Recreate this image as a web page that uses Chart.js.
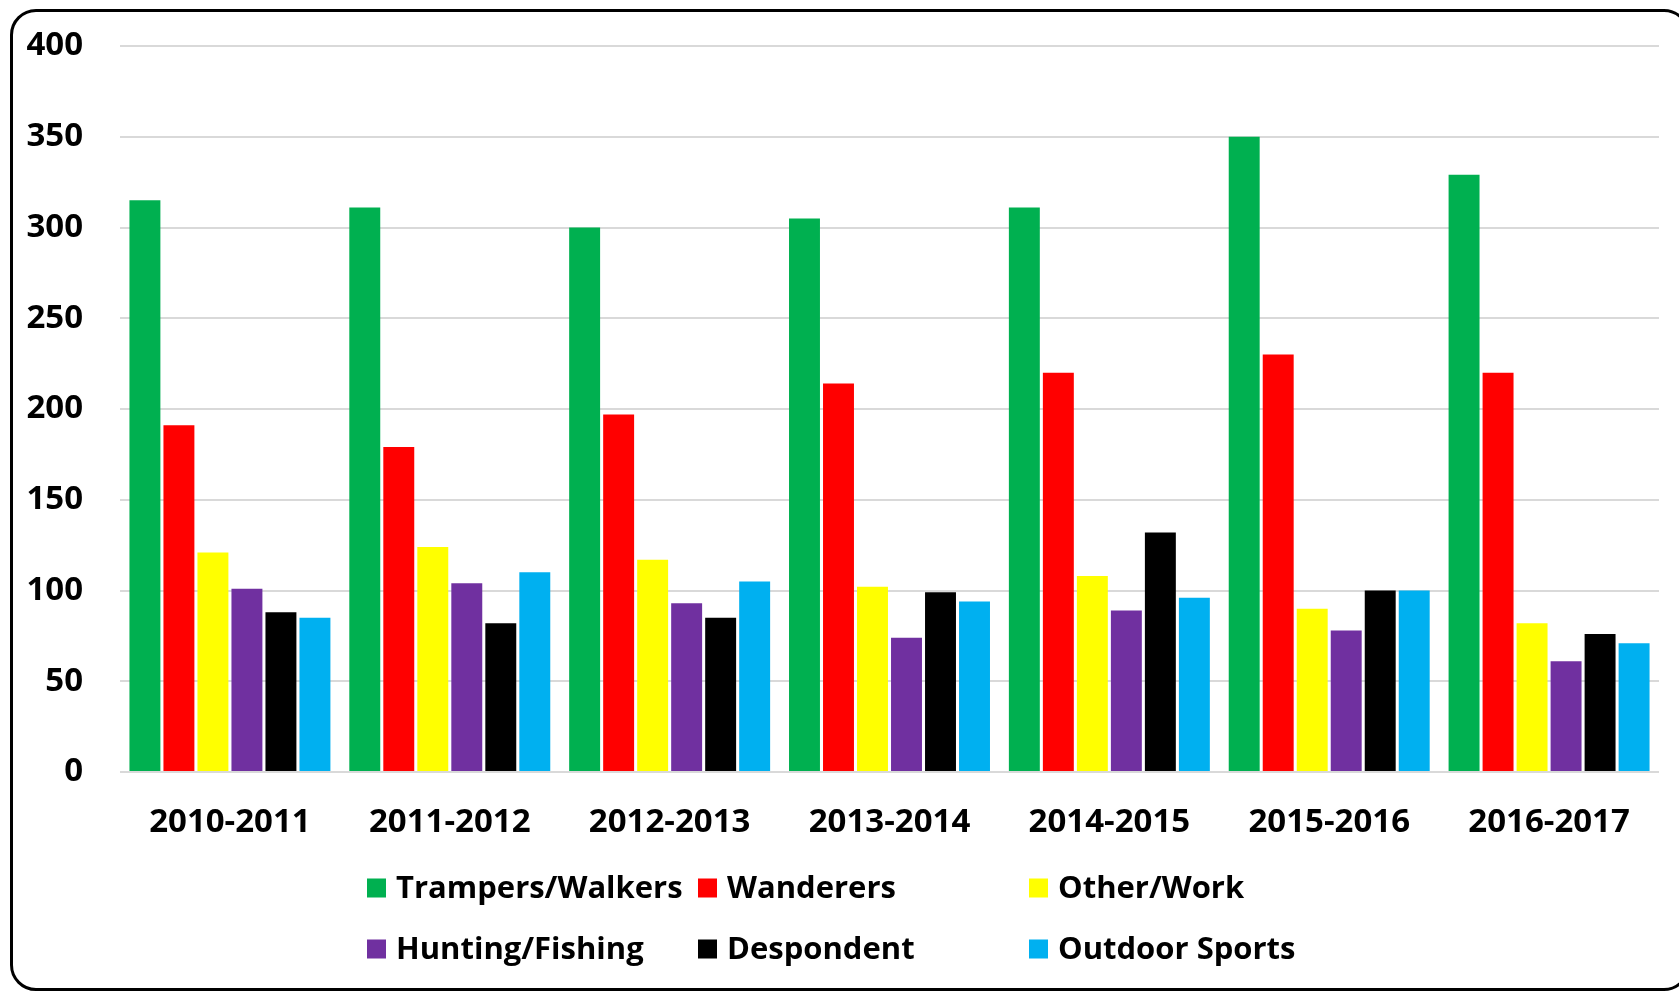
<!DOCTYPE html>
<html>
<head>
<meta charset="utf-8">
<script src="https://cdn.jsdelivr.net/npm/chart.js@4/dist/chart.umd.min.js"></script>
<style>
  html, body { margin: 0; padding: 0; background: #fff; overflow: hidden; }
  #wrap { position: relative; width: 1679px; height: 991px; overflow: hidden; }
  #frame { position: absolute; left: 10px; top: 9px; width: 1680px; height: 982px;
           border: 3px solid #000; border-radius: 26px; box-sizing: border-box; }
  canvas { position: absolute; left: 0; top: 0; }
</style>
</head>
<body>
<div id="wrap">
  <div id="frame"></div>
  <canvas id="c" width="1679" height="991"></canvas>
</div>
<script>
const categories = ["2010-2011","2011-2012","2012-2013","2013-2014","2014-2015","2015-2016","2016-2017"];
const seriesNames = ["Trampers/Walkers","Wanderers","Other/Work","Hunting/Fishing","Despondent","Outdoor Sports"];
const seriesColors = ["#00B050","#FF0000","#FFFF00","#7030A0","#000000","#00B0F0"];
const trampersWalkers = [315, 311, 300, 305, 311, 350, 329];
const wanderers       = [191, 179, 197, 214, 220, 230, 220];
const otherWork       = [121, 124, 117, 102, 108,  90,  82];
const huntingFishing  = [101, 104,  93,  74,  89,  78,  61];
const despondent      = [ 88,  82,  85,  99, 132, 100,  76];
const outdoorSports   = [ 85, 110, 105,  94,  96, 100,  71];
const yTicks = [0, 50, 100, 150, 200, 250, 300, 350, 400];

const seriesValues = [trampersWalkers, wanderers, otherWork, huntingFishing, despondent, outdoorSports];
const FONT = "'Open Sans', 'DejaVu Sans', sans-serif";

const legendPlugin = {
  id: 'gridLegend',
  afterDraw(chart) {
    const ctx = chart.ctx;
    const colX = [367, 698, 1029];
    const rowY = [888, 949];
    const box = 19;
    ctx.save();
    ctx.font = "bold 31px " + FONT;
    ctx.textBaseline = 'middle';
    ctx.textAlign = 'left';
    chart.data.datasets.forEach((ds, i) => {
      const x = colX[i % 3];
      const y = rowY[Math.floor(i / 3)];
      ctx.fillStyle = ds.backgroundColor;
      ctx.fillRect(x, y - box / 2, box, box);
      ctx.fillStyle = '#000';
      ctx.fillText(ds.label, x + box + 10, y + 1);
    });
    ctx.restore();
  }
};

new Chart(document.getElementById('c'), {
  type: 'bar',
  data: {
    labels: categories,
    datasets: seriesNames.map((name, i) => ({
      label: name,
      data: seriesValues[i],
      backgroundColor: seriesColors[i],
      borderWidth: 0,
      categoryPercentage: 0.928,
      barPercentage: 0.91
    }))
  },
  options: {
    responsive: false,
    animation: false,
    devicePixelRatio: 1,
    layout: { padding: { left: 20, right: 20, top: 46, bottom: 0 } },
    plugins: {
      legend: { display: false },
      tooltip: { enabled: false },
      title: { display: false }
    },
    scales: {
      x: {
        grid: { display: false, drawTicks: false },
        border: { display: false },
        ticks: { color: '#000', font: { family: FONT, size: 33, weight: 'bold' }, padding: 31, maxRotation: 0 },
        afterFit: (s) => { s.height = 219; s.paddingLeft = 0; s.paddingRight = 0; }
      },
      y: {
        min: 0, max: 400,
        afterBuildTicks: (s) => { s.ticks = yTicks.map(v => ({ value: v })); },
        grid: { color: '#d9d9d9', lineWidth: 2, drawTicks: false },
        border: { display: false },
        ticks: { color: '#000', font: { family: FONT, size: 33, weight: 'bold' }, padding: 37 },
        afterFit: (s) => { s.width = 100; s.paddingTop = 0; s.paddingBottom = 0; }
      }
    }
  },
  plugins: [legendPlugin]
});
</script>
</body>
</html>
